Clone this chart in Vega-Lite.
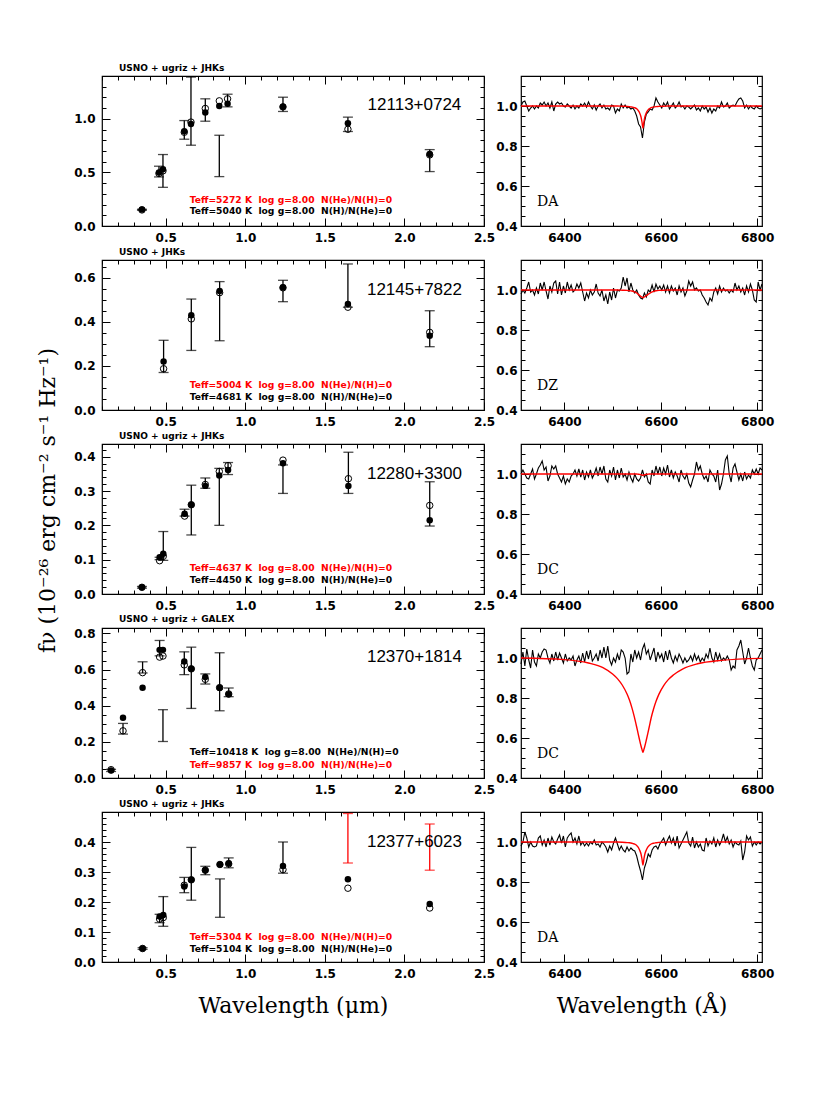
{
"$schema": "https://vega.github.io/schema/vega-lite/v6.json",
"background": "white",
"padding": {"left": 35, "top": 62, "right": 5, "bottom": 5},
"config": {
  "view": {"stroke": "black", "strokeWidth": 1.2},
  "axis": {"domain": false, "grid": false, "ticks": true, "tickColor": "black", "tickWidth": 1, "labelFont": "DejaVu Sans", "labelFontSize": 12, "labelFontWeight": "bold", "labelColor": "black", "labelFlush": false, "labelOverlap": false, "labelBound": false, "titleFont": "DejaVu Serif", "titleFontSize": 22, "titleFontWeight": "normal", "titleColor": "black"},
  "title": {"frame": "group"}
},
"datasets": {
"phot": [
{"p":1,"w":0.351,"lo":0.147,"hi":0.156,"f":0.153,"o":0.150,"hl":"n"},
{"p":1,"w":0.458,"lo":0.458,"hi":0.558,"f":0.500,"o":0.490,"hl":"n"},
{"p":1,"w":0.483,"lo":0.361,"hi":0.667,"f":0.530,"o":0.515,"hl":"n"},
{"p":1,"w":0.617,"lo":0.810,"hi":0.984,"f":0.885,"o":0.875,"hl":"n"},
{"p":1,"w":0.659,"lo":0.754,"hi":1.390,"f":0.953,"o":0.970,"hl":"n"},
{"p":1,"w":0.749,"lo":0.978,"hi":1.187,"f":1.060,"o":1.097,"hl":"n"},
{"p":1,"w":0.837,"lo":0.461,"hi":0.847,"f":1.120,"o":1.168,"hl":"n"},
{"p":1,"w":0.889,"lo":1.112,"hi":1.230,"f":1.140,"o":1.187,"hl":"n"},
{"p":1,"w":1.237,"lo":1.069,"hi":1.202,"f":1.112,"o":1.112,"hl":"n"},
{"p":1,"w":1.645,"lo":0.882,"hi":1.016,"f":0.960,"o":0.903,"hl":"n"},
{"p":1,"w":2.159,"lo":0.508,"hi":0.713,"f":0.673,"o":0.664,"hl":"n"},
{"p":2,"w":0.487,"lo":0.170,"hi":0.316,"f":0.220,"o":0.187,"hl":"n"},
{"p":2,"w":0.661,"lo":0.270,"hi":0.503,"f":0.430,"o":0.413,"hl":"n"},
{"p":2,"w":0.839,"lo":0.314,"hi":0.582,"f":0.539,"o":0.532,"hl":"n"},
{"p":2,"w":1.237,"lo":0.491,"hi":0.588,"f":0.557,"o":0.554,"hl":"n"},
{"p":2,"w":1.645,"lo":0.466,"hi":0.662,"f":0.481,"o":0.466,"hl":"n"},
{"p":2,"w":2.159,"lo":0.287,"hi":0.450,"f":0.337,"o":0.352,"hl":"n"},
{"p":3,"w":0.351,"lo":0.017,"hi":0.022,"f":0.0195,"o":0.0195,"hl":"n"},
{"p":3,"w":0.462,"lo":0.100,"hi":0.107,"f":0.107,"o":0.097,"hl":"n"},
{"p":3,"w":0.485,"lo":0.098,"hi":0.182,"f":0.117,"o":0.110,"hl":"n"},
{"p":3,"w":0.619,"lo":0.227,"hi":0.247,"f":0.234,"o":0.227,"hl":"n"},
{"p":3,"w":0.661,"lo":0.172,"hi":0.317,"f":0.260,"o":0.260,"hl":"n"},
{"p":3,"w":0.749,"lo":0.308,"hi":0.338,"f":0.315,"o":0.319,"hl":"n"},
{"p":3,"w":0.837,"lo":0.200,"hi":0.366,"f":0.345,"o":0.357,"hl":"n"},
{"p":3,"w":0.892,"lo":0.348,"hi":0.383,"f":0.361,"o":0.374,"hl":"n"},
{"p":3,"w":1.237,"lo":0.293,"hi":0.376,"f":0.381,"o":0.390,"hl":"n"},
{"p":3,"w":1.648,"lo":0.293,"hi":0.413,"f":0.315,"o":0.336,"hl":"n"},
{"p":3,"w":2.159,"lo":0.198,"hi":0.327,"f":0.215,"o":0.258,"hl":"n"},
{"p":4,"w":0.157,"lo":0.036,"hi":0.048,"f":0.041,"o":0.046,"hl":"n"},
{"p":4,"w":0.232,"lo":0.243,"hi":0.302,"f":0.333,"o":0.261,"hl":"n"},
{"p":4,"w":0.355,"lo":0.581,"hi":0.643,"f":0.500,"o":0.583,"hl":"n"},
{"p":4,"w":0.462,"lo":0.676,"hi":0.761,"f":0.709,"o":0.669,"hl":"n"},
{"p":4,"w":0.483,"lo":0.202,"hi":0.378,"f":0.709,"o":0.675,"hl":"n"},
{"p":4,"w":0.617,"lo":0.572,"hi":0.698,"f":0.644,"o":0.626,"hl":"n"},
{"p":4,"w":0.661,"lo":0.385,"hi":0.724,"f":0.604,"o":0.604,"hl":"n"},
{"p":4,"w":0.749,"lo":0.520,"hi":0.576,"f":0.559,"o":0.546,"hl":"n"},
{"p":4,"w":0.839,"lo":0.372,"hi":0.693,"f":0.500,"o":0.500,"hl":"n"},
{"p":4,"w":0.896,"lo":0.450,"hi":0.498,"f":0.463,"o":0.465,"hl":"n"},
{"p":5,"w":0.355,"lo":0.042,"hi":0.048,"f":0.045,"o":0.045,"hl":"n"},
{"p":5,"w":0.462,"lo":0.131,"hi":0.159,"f":0.152,"o":0.143,"hl":"n"},
{"p":5,"w":0.485,"lo":0.119,"hi":0.218,"f":0.157,"o":0.148,"hl":"n"},
{"p":5,"w":0.617,"lo":0.231,"hi":0.282,"f":0.252,"o":0.256,"hl":"n"},
{"p":5,"w":0.661,"lo":0.206,"hi":0.382,"f":0.274,"o":0.274,"hl":"n"},
{"p":5,"w":0.749,"lo":0.291,"hi":0.319,"f":0.306,"o":0.306,"hl":"n"},
{"p":5,"w":0.841,"lo":0.149,"hi":0.277,"f":0.325,"o":0.325,"hl":"n"},
{"p":5,"w":0.896,"lo":0.314,"hi":0.347,"f":0.329,"o":0.327,"hl":"n"},
{"p":5,"w":1.237,"lo":0.296,"hi":0.400,"f":0.320,"o":0.308,"hl":"n"},
{"p":5,"w":1.645,"lo":0.330,"hi":0.495,"f":0.276,"o":0.246,"hl":"y"},
{"p":5,"w":2.159,"lo":0.306,"hi":0.460,"f":0.193,"o":0.180,"hl":"y"}
],
"teff": [
{"p":1,"w":0.651,"y":0.247,"t":"Teff=5272 K\u00a0\u00a0log g=8.00\u00a0\u00a0N(He)/N(H)=0","hl":"y"},
{"p":1,"w":0.651,"y":0.137,"t":"Teff=5040 K\u00a0\u00a0log g=8.00\u00a0\u00a0N(H)/N(He)=0","hl":"n"},
{"p":2,"w":0.651,"y":0.114,"t":"Teff=5004 K\u00a0\u00a0log g=8.00\u00a0\u00a0N(He)/N(H)=0","hl":"y"},
{"p":2,"w":0.651,"y":0.059,"t":"Teff=4681 K\u00a0\u00a0log g=8.00\u00a0\u00a0N(H)/N(He)=0","hl":"n"},
{"p":3,"w":0.651,"y":0.076,"t":"Teff=4637 K\u00a0\u00a0log g=8.00\u00a0\u00a0N(He)/N(H)=0","hl":"y"},
{"p":3,"w":0.651,"y":0.040,"t":"Teff=4450 K\u00a0\u00a0log g=8.00\u00a0\u00a0N(H)/N(He)=0","hl":"n"},
{"p":4,"w":0.651,"y":0.144,"t":"Teff=10418 K\u00a0\u00a0log g=8.00\u00a0\u00a0N(He)/N(H)=0","hl":"n"},
{"p":4,"w":0.651,"y":0.074,"t":"Teff=9857 K\u00a0\u00a0log g=8.00\u00a0\u00a0N(H)/N(He)=0","hl":"y"},
{"p":5,"w":0.651,"y":0.085,"t":"Teff=5304 K\u00a0\u00a0log g=8.00\u00a0\u00a0N(He)/N(H)=0","hl":"y"},
{"p":5,"w":0.651,"y":0.044,"t":"Teff=5104 K\u00a0\u00a0log g=8.00\u00a0\u00a0N(H)/N(He)=0","hl":"n"}
],
"names": [
{"p":1,"w":2.063,"y":1.128,"t":"12113+0724"},
{"p":2,"w":2.063,"y":0.543,"t":"12145+7822"},
{"p":3,"w":2.063,"y":0.351,"t":"12280+3300"},
{"p":4,"w":2.063,"y":0.667,"t":"12370+1814"},
{"p":5,"w":2.063,"y":0.400,"t":"12377+6023"}
],
"types": [
{"p":1,"w":6343,"y":0.52,"t":"DA"},
{"p":2,"w":6343,"y":0.52,"t":"DZ"},
{"p":3,"w":6343,"y":0.52,"t":"DC"},
{"p":4,"w":6343,"y":0.52,"t":"DC"},
{"p":5,"w":6343,"y":0.52,"t":"DA"}
],
"model": [
{"w":6310,"m1":1,"m2":1,"m3":1,"m4":1.0,"m5":1},
{"w":6400,"m1":1,"m2":1,"m3":1,"m4":0.992,"m5":1},
{"w":6450,"m1":1,"m2":1,"m3":1,"m4":0.975,"m5":1},
{"w":6480,"m1":1,"m2":1,"m3":1,"m4":0.952,"m5":1},
{"w":6500,"m1":1,"m2":1,"m3":1,"m4":0.92,"m5":1},
{"w":6510,"m1":1,"m2":1,"m3":1,"m4":0.897,"m5":1},
{"w":6520,"m1":0.999,"m2":0.999,"m3":1,"m4":0.865,"m5":0.999},
{"w":6530,"m1":0.998,"m2":0.998,"m3":1,"m4":0.82,"m5":0.997},
{"w":6535,"m1":0.997,"m2":0.997,"m3":1,"m4":0.79,"m5":0.996},
{"w":6540,"m1":0.995,"m2":0.995,"m3":1,"m4":0.752,"m5":0.994},
{"w":6545,"m1":0.992,"m2":0.991,"m3":1,"m4":0.707,"m5":0.99},
{"w":6550,"m1":0.986,"m2":0.985,"m3":1,"m4":0.655,"m5":0.983},
{"w":6553,"m1":0.978,"m2":0.979,"m3":0.999,"m4":0.622,"m5":0.974},
{"w":6556,"m1":0.966,"m2":0.973,"m3":0.998,"m4":0.59,"m5":0.96},
{"w":6559,"m1":0.945,"m2":0.967,"m3":0.997,"m4":0.56,"m5":0.94},
{"w":6561,"m1":0.92,"m2":0.964,"m3":0.995,"m4":0.543,"m5":0.915},
{"w":6563,"m1":0.89,"m2":0.962,"m3":0.994,"m4":0.528,"m5":0.885},
{"w":6565,"m1":0.92,"m2":0.964,"m3":0.995,"m4":0.543,"m5":0.915},
{"w":6567,"m1":0.945,"m2":0.967,"m3":0.997,"m4":0.56,"m5":0.94},
{"w":6570,"m1":0.966,"m2":0.972,"m3":0.998,"m4":0.59,"m5":0.96},
{"w":6573,"m1":0.978,"m2":0.977,"m3":0.999,"m4":0.622,"m5":0.974},
{"w":6576,"m1":0.986,"m2":0.982,"m3":1,"m4":0.655,"m5":0.983},
{"w":6580,"m1":0.992,"m2":0.988,"m3":1,"m4":0.70,"m5":0.99},
{"w":6585,"m1":0.995,"m2":0.993,"m3":1,"m4":0.745,"m5":0.994},
{"w":6590,"m1":0.997,"m2":0.996,"m3":1,"m4":0.782,"m5":0.996},
{"w":6596,"m1":0.998,"m2":0.998,"m3":1,"m4":0.818,"m5":0.998},
{"w":6606,"m1":0.999,"m2":0.999,"m3":1,"m4":0.862,"m5":0.999},
{"w":6616,"m1":1,"m2":1,"m3":1,"m4":0.893,"m5":1},
{"w":6626,"m1":1,"m2":1,"m3":1,"m4":0.915,"m5":1},
{"w":6646,"m1":1,"m2":1,"m3":1,"m4":0.946,"m5":1},
{"w":6676,"m1":1,"m2":1,"m3":1,"m4":0.971,"m5":1},
{"w":6726,"m1":1,"m2":1,"m3":1,"m4":0.988,"m5":1},
{"w":6810,"m1":1,"m2":1,"m3":1,"m4":0.998,"m5":1}
],
"spec": [
{"w":6310,"s1":1.00,"s2":0.98,"s3":1.00,"s4":0.97,"s5":0.98},
{"w":6314,"s1":1.02,"s2":1.00,"s3":1.02,"s4":1.03,"s5":1.00},
{"w":6318,"s1":1.025,"s2":0.985,"s3":1.00,"s4":0.96,"s5":1.05},
{"w":6322,"s1":1.00,"s2":1.01,"s3":0.98,"s4":1.045,"s5":1.02},
{"w":6326,"s1":0.975,"s2":1.04,"s3":0.975,"s4":0.99,"s5":0.975},
{"w":6330,"s1":0.99,"s2":0.99,"s3":1.00,"s4":0.95,"s5":1.00},
{"w":6334,"s1":1.00,"s2":1.00,"s3":1.025,"s4":1.04,"s5":0.98},
{"w":6338,"s1":0.985,"s2":0.975,"s3":0.975,"s4":0.98,"s5":0.975},
{"w":6342,"s1":1.00,"s2":1.01,"s3":1.00,"s4":0.96,"s5":0.98},
{"w":6346,"s1":0.99,"s2":0.98,"s3":1.03,"s4":1.02,"s5":1.02},
{"w":6350,"s1":1.015,"s2":1.035,"s3":1.045,"s4":1.00,"s5":1.03},
{"w":6354,"s1":1.005,"s2":1.00,"s3":1.065,"s4":1.03,"s5":0.985},
{"w":6358,"s1":1.02,"s2":1.04,"s3":1.02,"s4":1.045,"s5":1.01},
{"w":6362,"s1":1.00,"s2":0.995,"s3":1.035,"s4":1.04,"s5":0.975},
{"w":6366,"s1":1.015,"s2":0.955,"s3":0.965,"s4":1.00,"s5":1.02},
{"w":6370,"s1":0.99,"s2":1.02,"s3":0.99,"s4":0.975,"s5":0.985},
{"w":6374,"s1":1.02,"s2":0.99,"s3":1.04,"s4":1.02,"s5":1.025},
{"w":6378,"s1":0.975,"s2":1.035,"s3":1.025,"s4":0.985,"s5":1.00},
{"w":6382,"s1":1.01,"s2":1.045,"s3":1.04,"s4":1.03,"s5":0.99},
{"w":6386,"s1":1.02,"s2":0.98,"s3":1.00,"s4":0.99,"s5":1.015},
{"w":6390,"s1":1.01,"s2":1.04,"s3":0.98,"s4":1.025,"s5":1.035},
{"w":6394,"s1":1.015,"s2":0.975,"s3":0.96,"s4":1.00,"s5":0.995},
{"w":6398,"s1":1.00,"s2":1.02,"s3":0.99,"s4":0.975,"s5":1.03},
{"w":6402,"s1":0.995,"s2":0.985,"s3":0.95,"s4":1.02,"s5":0.975},
{"w":6406,"s1":1.01,"s2":1.04,"s3":0.975,"s4":0.985,"s5":1.02},
{"w":6410,"s1":1.00,"s2":1.00,"s3":0.96,"s4":1.00,"s5":1.035},
{"w":6414,"s1":0.99,"s2":1.025,"s3":0.99,"s4":0.99,"s5":1.045},
{"w":6418,"s1":1.005,"s2":0.99,"s3":1.00,"s4":1.01,"s5":1.00},
{"w":6422,"s1":0.985,"s2":1.00,"s3":1.02,"s4":0.96,"s5":1.02},
{"w":6426,"s1":1.00,"s2":1.03,"s3":0.99,"s4":0.99,"s5":0.99},
{"w":6430,"s1":0.99,"s2":1.01,"s3":1.025,"s4":1.01,"s5":1.03},
{"w":6434,"s1":1.01,"s2":1.035,"s3":0.985,"s4":0.975,"s5":0.985},
{"w":6438,"s1":1.00,"s2":0.99,"s3":1.02,"s4":1.025,"s5":1.00},
{"w":6442,"s1":1.015,"s2":0.945,"s3":0.97,"s4":0.98,"s5":0.98},
{"w":6446,"s1":0.995,"s2":0.985,"s3":1.01,"s4":1.035,"s5":0.995},
{"w":6450,"s1":1.02,"s2":0.96,"s3":0.985,"s4":0.995,"s5":0.98},
{"w":6454,"s1":1.00,"s2":1.00,"s3":1.02,"s4":1.04,"s5":1.00},
{"w":6458,"s1":0.985,"s2":0.975,"s3":0.98,"s4":0.985,"s5":0.99},
{"w":6462,"s1":1.005,"s2":0.99,"s3":1.00,"s4":1.00,"s5":1.01},
{"w":6466,"s1":0.98,"s2":1.03,"s3":1.03,"s4":1.02,"s5":0.985},
{"w":6470,"s1":1.00,"s2":0.985,"s3":0.99,"s4":0.985,"s5":0.99},
{"w":6474,"s1":1.01,"s2":0.97,"s3":1.035,"s4":1.04,"s5":0.975},
{"w":6478,"s1":0.99,"s2":1.00,"s3":1.00,"s4":1.00,"s5":1.00},
{"w":6482,"s1":1.005,"s2":0.945,"s3":1.04,"s4":1.055,"s5":0.99},
{"w":6486,"s1":0.985,"s2":0.975,"s3":0.975,"s4":1.00,"s5":0.975},
{"w":6490,"s1":0.99,"s2":0.93,"s3":0.96,"s4":1.06,"s5":0.95},
{"w":6494,"s1":0.98,"s2":0.99,"s3":1.02,"s4":0.99,"s5":0.98},
{"w":6498,"s1":1.005,"s2":0.95,"s3":0.99,"s4":0.965,"s5":0.96},
{"w":6502,"s1":1.00,"s2":1.01,"s3":1.035,"s4":1.00,"s5":0.995},
{"w":6506,"s1":0.965,"s2":0.96,"s3":0.97,"s4":0.98,"s5":1.02},
{"w":6510,"s1":0.985,"s2":1.00,"s3":1.02,"s4":1.02,"s5":0.99},
{"w":6514,"s1":0.975,"s2":0.995,"s3":0.98,"s4":0.99,"s5":0.96},
{"w":6518,"s1":1.01,"s2":1.01,"s3":1.03,"s4":1.04,"s5":0.98},
{"w":6522,"s1":0.99,"s2":1.065,"s3":0.985,"s4":1.03,"s5":0.96},
{"w":6526,"s1":1.005,"s2":1.02,"s3":1.00,"s4":1.00,"s5":0.95},
{"w":6530,"s1":0.99,"s2":1.06,"s3":0.97,"s4":0.92,"s5":0.975},
{"w":6534,"s1":0.995,"s2":0.99,"s3":1.01,"s4":0.93,"s5":0.955},
{"w":6538,"s1":0.985,"s2":1.035,"s3":0.98,"s4":1.02,"s5":0.97},
{"w":6542,"s1":0.99,"s2":1.00,"s3":0.96,"s4":0.98,"s5":0.96},
{"w":6546,"s1":0.975,"s2":0.985,"s3":1.00,"s4":1.04,"s5":0.955},
{"w":6550,"s1":0.95,"s2":1.00,"s3":0.975,"s4":1.00,"s5":0.93},
{"w":6554,"s1":0.91,"s2":0.975,"s3":0.965,"s4":1.03,"s5":0.89},
{"w":6558,"s1":0.895,"s2":0.96,"s3":0.98,"s4":0.99,"s5":0.855},
{"w":6562,"s1":0.84,"s2":0.955,"s3":1.02,"s4":1.045,"s5":0.81},
{"w":6566,"s1":0.92,"s2":0.985,"s3":0.985,"s4":1.07,"s5":0.87},
{"w":6570,"s1":0.96,"s2":0.965,"s3":1.00,"s4":1.02,"s5":0.90},
{"w":6574,"s1":0.97,"s2":1.00,"s3":0.96,"s4":1.04,"s5":0.94},
{"w":6578,"s1":0.985,"s2":0.99,"s3":0.95,"s4":0.99,"s5":0.925},
{"w":6582,"s1":0.98,"s2":1.025,"s3":1.02,"s4":1.02,"s5":0.96},
{"w":6586,"s1":1.00,"s2":0.99,"s3":0.99,"s4":1.05,"s5":0.975},
{"w":6590,"s1":1.04,"s2":1.03,"s3":1.04,"s4":0.98,"s5":0.98},
{"w":6594,"s1":1.02,"s2":1.005,"s3":1.00,"s4":1.03,"s5":0.965},
{"w":6598,"s1":1.005,"s2":1.02,"s3":1.035,"s4":1.00,"s5":0.99},
{"w":6602,"s1":0.99,"s2":1.00,"s3":0.99,"s4":1.02,"s5":1.005},
{"w":6606,"s1":1.015,"s2":1.025,"s3":1.03,"s4":0.98,"s5":1.02},
{"w":6610,"s1":1.00,"s2":0.99,"s3":1.00,"s4":1.035,"s5":0.985},
{"w":6614,"s1":1.02,"s2":1.02,"s3":1.045,"s4":0.99,"s5":1.01},
{"w":6618,"s1":0.985,"s2":0.985,"s3":0.985,"s4":1.04,"s5":1.03},
{"w":6622,"s1":1.00,"s2":1.02,"s3":1.02,"s4":1.00,"s5":0.995},
{"w":6626,"s1":1.015,"s2":0.995,"s3":0.98,"s4":0.975,"s5":1.02},
{"w":6630,"s1":0.99,"s2":1.01,"s3":1.01,"s4":1.01,"s5":0.98},
{"w":6634,"s1":1.00,"s2":0.975,"s3":0.99,"s4":0.985,"s5":1.03},
{"w":6638,"s1":1.02,"s2":1.02,"s3":0.96,"s4":1.02,"s5":0.97},
{"w":6642,"s1":0.995,"s2":0.99,"s3":1.02,"s4":1.00,"s5":0.99},
{"w":6646,"s1":1.00,"s2":1.01,"s3":0.99,"s4":0.975,"s5":1.01},
{"w":6650,"s1":0.985,"s2":0.97,"s3":0.975,"s4":1.00,"s5":1.03},
{"w":6654,"s1":1.00,"s2":0.995,"s3":1.00,"s4":0.98,"s5":1.05},
{"w":6658,"s1":0.995,"s2":1.045,"s3":0.955,"s4":0.99,"s5":0.995},
{"w":6662,"s1":0.985,"s2":1.02,"s3":0.935,"s4":1.01,"s5":0.98},
{"w":6666,"s1":0.995,"s2":1.04,"s3":0.97,"s4":0.985,"s5":1.025},
{"w":6670,"s1":1.005,"s2":1.00,"s3":1.00,"s4":1.02,"s5":0.97},
{"w":6674,"s1":0.98,"s2":1.01,"s3":1.06,"s4":0.99,"s5":1.00},
{"w":6678,"s1":0.99,"s2":0.995,"s3":1.02,"s4":1.01,"s5":0.975},
{"w":6682,"s1":0.975,"s2":1.00,"s3":1.04,"s4":0.98,"s5":0.99},
{"w":6686,"s1":1.00,"s2":0.975,"s3":1.00,"s4":1.00,"s5":0.96},
{"w":6690,"s1":0.985,"s2":0.96,"s3":0.975,"s4":0.985,"s5":0.955},
{"w":6694,"s1":0.995,"s2":0.94,"s3":0.99,"s4":1.02,"s5":1.02},
{"w":6698,"s1":0.97,"s2":0.925,"s3":0.96,"s4":1.00,"s5":0.98},
{"w":6702,"s1":0.99,"s2":0.96,"s3":1.02,"s4":1.05,"s5":1.005},
{"w":6706,"s1":0.965,"s2":0.945,"s3":1.00,"s4":1.00,"s5":0.99},
{"w":6710,"s1":0.985,"s2":0.99,"s3":0.99,"s4":0.98,"s5":1.02},
{"w":6714,"s1":0.975,"s2":1.01,"s3":0.96,"s4":1.03,"s5":0.975},
{"w":6718,"s1":1.00,"s2":0.98,"s3":1.02,"s4":0.99,"s5":1.01},
{"w":6722,"s1":0.99,"s2":1.02,"s3":0.92,"s4":1.02,"s5":0.985},
{"w":6726,"s1":1.02,"s2":0.99,"s3":0.95,"s4":0.985,"s5":1.005},
{"w":6730,"s1":0.995,"s2":1.01,"s3":1.00,"s4":1.00,"s5":1.04},
{"w":6734,"s1":1.00,"s2":0.995,"s3":1.07,"s4":0.99,"s5":1.00},
{"w":6738,"s1":1.015,"s2":1.00,"s3":1.09,"s4":1.01,"s5":1.025},
{"w":6742,"s1":0.99,"s2":0.985,"s3":1.00,"s4":0.99,"s5":0.99},
{"w":6746,"s1":1.00,"s2":1.00,"s3":0.96,"s4":0.94,"s5":1.01},
{"w":6750,"s1":1.005,"s2":0.99,"s3":1.03,"s4":0.96,"s5":0.975},
{"w":6754,"s1":1.00,"s2":1.035,"s3":1.05,"s4":0.95,"s5":1.00},
{"w":6758,"s1":1.02,"s2":1.00,"s3":1.01,"s4":1.04,"s5":0.99},
{"w":6762,"s1":1.035,"s2":1.02,"s3":0.97,"s4":1.06,"s5":0.985},
{"w":6766,"s1":1.04,"s2":0.99,"s3":1.00,"s4":1.09,"s5":1.005},
{"w":6770,"s1":1.025,"s2":1.01,"s3":0.965,"s4":1.03,"s5":0.91},
{"w":6774,"s1":0.99,"s2":0.975,"s3":1.01,"s4":0.97,"s5":0.95},
{"w":6778,"s1":1.005,"s2":1.02,"s3":0.975,"s4":1.00,"s5":1.03},
{"w":6782,"s1":0.985,"s2":0.99,"s3":0.995,"s4":1.05,"s5":1.01},
{"w":6786,"s1":1.00,"s2":1.03,"s3":0.98,"s4":1.00,"s5":1.025},
{"w":6790,"s1":0.99,"s2":1.00,"s3":1.02,"s4":0.96,"s5":0.98},
{"w":6794,"s1":0.985,"s2":0.95,"s3":1.00,"s4":0.94,"s5":1.00},
{"w":6798,"s1":1.00,"s2":0.94,"s3":1.025,"s4":0.99,"s5":0.985},
{"w":6802,"s1":0.99,"s2":1.04,"s3":1.00,"s4":1.00,"s5":1.00},
{"w":6806,"s1":0.985,"s2":1.00,"s3":1.03,"s4":1.02,"s5":0.99},
{"w":6810,"s1":0.99,"s2":1.03,"s3":1.02,"s4":1.04,"s5":1.00}
]
},
"columns": 2,
"spacing": {"row": 34, "column": 37},
"bounds": "flush",
"concat": [
{
 "width": 382, "height": 150,
 "title": {"text": "USNO + ugriz + JHKs", "anchor": "start", "frame": "group", "dx": 17, "offset": 3, "fontSize": 9, "font": "DejaVu Sans", "fontWeight": "bold", "color": "black"},
 "layer": [
  {"data": {"name": "phot"}, "transform": [{"filter": "datum.p == 1"}], "mark": {"type": "rule", "strokeWidth": 1.3},
   "encoding": {
    "x": {"field": "w", "type": "quantitative", "scale": {"domain": [0.1, 2.5], "nice": false},
          "axis": {"orient": "bottom", "title": null, "values": [0.1,0.2,0.3,0.4,0.5,0.6,0.7,0.8,0.9,1.0,1.1,1.2,1.3,1.4,1.5,1.6,1.7,1.8,1.9,2.0,2.1,2.2,2.3,2.4,2.5], "labelExpr": "abs(datum.value*2-round(datum.value*2))<0.001 ? format(datum.value,'.1f') : ''", "tickSize": {"condition": {"test": "abs(datum.value*2-round(datum.value*2))<0.001", "value": -8}, "value": -4}, "labelPadding": 14}},
    "y": {"field": "lo", "type": "quantitative", "scale": {"domain": [0, 1.4], "nice": false},
          "axis": {"orient": "left", "title": null, "values": [0,0.1,0.2,0.3,0.4,0.5,0.6,0.7,0.8,0.9,1.0,1.1,1.2,1.3], "labelExpr": "abs(datum.value*2-round(datum.value*2))<0.001 ? format(datum.value,'.1f') : ''", "tickSize": {"condition": {"test": "abs(datum.value*2-round(datum.value*2))<0.001", "value": -8}, "value": -4}, "labelPadding": 15}},
    "y2": {"field": "hi"},
    "color": {"field": "hl", "type": "nominal", "scale": {"domain": ["n", "y"], "range": ["black", "red"]}, "legend": null}}},
  {"data": {"name": "phot"}, "transform": [{"filter": "datum.p == 1"}], "mark": {"type": "tick", "orient": "horizontal", "size": 10, "thickness": 1.3},
   "encoding": {
    "x": {"field": "w", "type": "quantitative", "scale": {"domain": [0.1, 2.5], "nice": false},
          "axis": {"orient": "top", "title": null, "labels": false, "values": [0.1,0.2,0.3,0.4,0.5,0.6,0.7,0.8,0.9,1.0,1.1,1.2,1.3,1.4,1.5,1.6,1.7,1.8,1.9,2.0,2.1,2.2,2.3,2.4,2.5], "tickSize": {"condition": {"test": "abs(datum.value*2-round(datum.value*2))<0.001", "value": -8}, "value": -4}}},
    "y": {"field": "lo", "type": "quantitative", "scale": {"domain": [0, 1.4], "nice": false},
          "axis": {"orient": "right", "title": null, "labels": false, "values": [0,0.1,0.2,0.3,0.4,0.5,0.6,0.7,0.8,0.9,1.0,1.1,1.2,1.3], "tickSize": {"condition": {"test": "abs(datum.value*2-round(datum.value*2))<0.001", "value": -8}, "value": -4}}},
    "color": {"field": "hl", "type": "nominal", "scale": {"domain": ["n", "y"], "range": ["black", "red"]}, "legend": null}}},
  {"data": {"name": "phot"}, "transform": [{"filter": "datum.p == 1"}], "mark": {"type": "tick", "orient": "horizontal", "size": 10, "thickness": 1.3},
   "encoding": {
    "x": {"field": "w", "type": "quantitative", "scale": {"domain": [0.1, 2.5], "nice": false}, "axis": null},
    "y": {"field": "hi", "type": "quantitative", "scale": {"domain": [0, 1.4], "nice": false}, "axis": null},
    "color": {"field": "hl", "type": "nominal", "scale": {"domain": ["n", "y"], "range": ["black", "red"]}, "legend": null}}},
  {"data": {"name": "phot"}, "transform": [{"filter": "datum.p == 1"}], "mark": {"type": "point", "shape": "circle", "size": 42, "filled": false, "color": "black", "strokeWidth": 1, "opacity": 1},
   "encoding": {
    "x": {"field": "w", "type": "quantitative", "scale": {"domain": [0.1, 2.5], "nice": false}, "axis": null},
    "y": {"field": "o", "type": "quantitative", "scale": {"domain": [0, 1.4], "nice": false}, "axis": null}}},
  {"data": {"name": "phot"}, "transform": [{"filter": "datum.p == 1"}], "mark": {"type": "point", "shape": "circle", "size": 42, "filled": true, "color": "black", "opacity": 1},
   "encoding": {
    "x": {"field": "w", "type": "quantitative", "scale": {"domain": [0.1, 2.5], "nice": false}, "axis": null},
    "y": {"field": "f", "type": "quantitative", "scale": {"domain": [0, 1.4], "nice": false}, "axis": null}}},
  {"data": {"name": "teff"}, "transform": [{"filter": "datum.p == 1"}], "mark": {"type": "text", "align": "left", "baseline": "middle", "font": "DejaVu Sans", "fontSize": 9.2, "fontWeight": "bold"},
   "encoding": {
    "x": {"field": "w", "type": "quantitative", "scale": {"domain": [0.1, 2.5], "nice": false}, "axis": null},
    "y": {"field": "y", "type": "quantitative", "scale": {"domain": [0, 1.4], "nice": false}, "axis": null},
    "text": {"field": "t"},
    "color": {"field": "hl", "type": "nominal", "scale": {"domain": ["n", "y"], "range": ["black", "red"]}, "legend": null}}},
  {"data": {"name": "names"}, "transform": [{"filter": "datum.p == 1"}], "mark": {"type": "text", "align": "center", "baseline": "middle", "font": "Liberation Sans", "fontSize": 17, "color": "black"},
   "encoding": {
    "x": {"field": "w", "type": "quantitative", "scale": {"domain": [0.1, 2.5], "nice": false}, "axis": null},
    "y": {"field": "y", "type": "quantitative", "scale": {"domain": [0, 1.4], "nice": false}, "axis": null},
    "text": {"field": "t"}}}
 ],
 "resolve": {"axis": {"x": "independent", "y": "independent"}}
},
{
 "width": 241, "height": 150,
 "layer": [
  {"data": {"name": "spec"}, "mark": {"type": "line", "color": "black", "strokeWidth": 1.1},
   "encoding": {
    "x": {"field": "w", "type": "quantitative", "scale": {"domain": [6310, 6810], "nice": false},
          "axis": {"orient": "bottom", "title": null, "values": [6350,6400,6450,6500,6550,6600,6650,6700,6750,6800], "labelExpr": "datum.value % 200 == 0 ? datum.value + '' : ''", "tickSize": {"condition": {"test": "datum.value % 200 == 0", "value": -8}, "value": -4}, "labelPadding": 14}},
    "y": {"field": "s1", "type": "quantitative", "scale": {"domain": [0.4, 1.15], "nice": false, "zero": false},
          "axis": {"orient": "left", "title": null, "values": [0.4,0.45,0.5,0.55,0.6,0.65,0.7,0.75,0.8,0.85,0.9,0.95,1.0,1.05,1.1], "labelExpr": "abs(datum.value*5-round(datum.value*5))<0.001 ? format(datum.value,'.1f') : ''", "tickSize": {"condition": {"test": "abs(datum.value*5-round(datum.value*5))<0.001", "value": -8}, "value": -4}, "labelPadding": 12}}}},
  {"data": {"name": "model"}, "mark": {"type": "line", "color": "red", "strokeWidth": 1.4, "interpolate": "monotone"},
   "encoding": {
    "x": {"field": "w", "type": "quantitative", "scale": {"domain": [6310, 6810], "nice": false},
          "axis": {"orient": "top", "title": null, "labels": false, "values": [6350,6400,6450,6500,6550,6600,6650,6700,6750,6800], "tickSize": {"condition": {"test": "datum.value % 200 == 0", "value": -8}, "value": -4}}},
    "y": {"field": "m1", "type": "quantitative", "scale": {"domain": [0.4, 1.15], "nice": false, "zero": false},
          "axis": {"orient": "right", "title": null, "labels": false, "values": [0.4,0.45,0.5,0.55,0.6,0.65,0.7,0.75,0.8,0.85,0.9,0.95,1.0,1.05,1.1], "tickSize": {"condition": {"test": "abs(datum.value*5-round(datum.value*5))<0.001", "value": -8}, "value": -4}}}}},
  {"data": {"name": "types"}, "transform": [{"filter": "datum.p == 1"}], "mark": {"type": "text", "align": "left", "baseline": "middle", "font": "DejaVu Serif", "fontSize": 14, "color": "black"},
   "encoding": {
    "x": {"field": "w", "type": "quantitative", "scale": {"domain": [6310, 6810], "nice": false}, "axis": null},
    "y": {"field": "y", "type": "quantitative", "scale": {"domain": [0.4, 1.15], "nice": false, "zero": false}, "axis": null},
    "text": {"field": "t"}}}
 ],
 "resolve": {"axis": {"x": "independent", "y": "independent"}}
},
{
 "width": 382, "height": 150,
 "title": {"text": "USNO + JHKs", "anchor": "start", "frame": "group", "dx": 17, "offset": 3, "fontSize": 9, "font": "DejaVu Sans", "fontWeight": "bold", "color": "black"},
 "layer": [
  {"data": {"name": "phot"}, "transform": [{"filter": "datum.p == 2"}], "mark": {"type": "rule", "strokeWidth": 1.3},
   "encoding": {
    "x": {"field": "w", "type": "quantitative", "scale": {"domain": [0.1, 2.5], "nice": false},
          "axis": {"orient": "bottom", "title": null, "values": [0.1,0.2,0.3,0.4,0.5,0.6,0.7,0.8,0.9,1.0,1.1,1.2,1.3,1.4,1.5,1.6,1.7,1.8,1.9,2.0,2.1,2.2,2.3,2.4,2.5], "labelExpr": "abs(datum.value*2-round(datum.value*2))<0.001 ? format(datum.value,'.1f') : ''", "tickSize": {"condition": {"test": "abs(datum.value*2-round(datum.value*2))<0.001", "value": -8}, "value": -4}, "labelPadding": 14}},
    "y": {"field": "lo", "type": "quantitative", "scale": {"domain": [0, 0.68], "nice": false},
          "axis": {"orient": "left", "title": "fν (10⁻²⁶ erg cm⁻² s⁻¹ Hz⁻¹)", "titleAngle": 270, "titleAlign": "center", "titleBaseline": "middle", "titleX": -55, "titleY": 240, "values": [0,0.05,0.1,0.15,0.2,0.25,0.3,0.35,0.4,0.45,0.5,0.55,0.6,0.65], "labelExpr": "abs(datum.value*5-round(datum.value*5))<0.001 ? format(datum.value,'.1f') : ''", "tickSize": {"condition": {"test": "abs(datum.value*5-round(datum.value*5))<0.001", "value": -8}, "value": -4}, "labelPadding": 15}},
    "y2": {"field": "hi"},
    "color": {"field": "hl", "type": "nominal", "scale": {"domain": ["n", "y"], "range": ["black", "red"]}, "legend": null}}},
  {"data": {"name": "phot"}, "transform": [{"filter": "datum.p == 2"}], "mark": {"type": "tick", "orient": "horizontal", "size": 10, "thickness": 1.3},
   "encoding": {
    "x": {"field": "w", "type": "quantitative", "scale": {"domain": [0.1, 2.5], "nice": false},
          "axis": {"orient": "top", "title": null, "labels": false, "values": [0.1,0.2,0.3,0.4,0.5,0.6,0.7,0.8,0.9,1.0,1.1,1.2,1.3,1.4,1.5,1.6,1.7,1.8,1.9,2.0,2.1,2.2,2.3,2.4,2.5], "tickSize": {"condition": {"test": "abs(datum.value*2-round(datum.value*2))<0.001", "value": -8}, "value": -4}}},
    "y": {"field": "lo", "type": "quantitative", "scale": {"domain": [0, 0.68], "nice": false},
          "axis": {"orient": "right", "title": null, "labels": false, "values": [0,0.05,0.1,0.15,0.2,0.25,0.3,0.35,0.4,0.45,0.5,0.55,0.6,0.65], "tickSize": {"condition": {"test": "abs(datum.value*5-round(datum.value*5))<0.001", "value": -8}, "value": -4}}},
    "color": {"field": "hl", "type": "nominal", "scale": {"domain": ["n", "y"], "range": ["black", "red"]}, "legend": null}}},
  {"data": {"name": "phot"}, "transform": [{"filter": "datum.p == 2"}], "mark": {"type": "tick", "orient": "horizontal", "size": 10, "thickness": 1.3},
   "encoding": {
    "x": {"field": "w", "type": "quantitative", "scale": {"domain": [0.1, 2.5], "nice": false}, "axis": null},
    "y": {"field": "hi", "type": "quantitative", "scale": {"domain": [0, 0.68], "nice": false}, "axis": null},
    "color": {"field": "hl", "type": "nominal", "scale": {"domain": ["n", "y"], "range": ["black", "red"]}, "legend": null}}},
  {"data": {"name": "phot"}, "transform": [{"filter": "datum.p == 2"}], "mark": {"type": "point", "shape": "circle", "size": 42, "filled": false, "color": "black", "strokeWidth": 1, "opacity": 1},
   "encoding": {
    "x": {"field": "w", "type": "quantitative", "scale": {"domain": [0.1, 2.5], "nice": false}, "axis": null},
    "y": {"field": "o", "type": "quantitative", "scale": {"domain": [0, 0.68], "nice": false}, "axis": null}}},
  {"data": {"name": "phot"}, "transform": [{"filter": "datum.p == 2"}], "mark": {"type": "point", "shape": "circle", "size": 42, "filled": true, "color": "black", "opacity": 1},
   "encoding": {
    "x": {"field": "w", "type": "quantitative", "scale": {"domain": [0.1, 2.5], "nice": false}, "axis": null},
    "y": {"field": "f", "type": "quantitative", "scale": {"domain": [0, 0.68], "nice": false}, "axis": null}}},
  {"data": {"name": "teff"}, "transform": [{"filter": "datum.p == 2"}], "mark": {"type": "text", "align": "left", "baseline": "middle", "font": "DejaVu Sans", "fontSize": 9.2, "fontWeight": "bold"},
   "encoding": {
    "x": {"field": "w", "type": "quantitative", "scale": {"domain": [0.1, 2.5], "nice": false}, "axis": null},
    "y": {"field": "y", "type": "quantitative", "scale": {"domain": [0, 0.68], "nice": false}, "axis": null},
    "text": {"field": "t"},
    "color": {"field": "hl", "type": "nominal", "scale": {"domain": ["n", "y"], "range": ["black", "red"]}, "legend": null}}},
  {"data": {"name": "names"}, "transform": [{"filter": "datum.p == 2"}], "mark": {"type": "text", "align": "center", "baseline": "middle", "font": "Liberation Sans", "fontSize": 17, "color": "black"},
   "encoding": {
    "x": {"field": "w", "type": "quantitative", "scale": {"domain": [0.1, 2.5], "nice": false}, "axis": null},
    "y": {"field": "y", "type": "quantitative", "scale": {"domain": [0, 0.68], "nice": false}, "axis": null},
    "text": {"field": "t"}}}
 ],
 "resolve": {"axis": {"x": "independent", "y": "independent"}}
},
{
 "width": 241, "height": 150,
 "layer": [
  {"data": {"name": "spec"}, "mark": {"type": "line", "color": "black", "strokeWidth": 1.1},
   "encoding": {
    "x": {"field": "w", "type": "quantitative", "scale": {"domain": [6310, 6810], "nice": false},
          "axis": {"orient": "bottom", "title": null, "values": [6350,6400,6450,6500,6550,6600,6650,6700,6750,6800], "labelExpr": "datum.value % 200 == 0 ? datum.value + '' : ''", "tickSize": {"condition": {"test": "datum.value % 200 == 0", "value": -8}, "value": -4}, "labelPadding": 14}},
    "y": {"field": "s2", "type": "quantitative", "scale": {"domain": [0.4, 1.15], "nice": false, "zero": false},
          "axis": {"orient": "left", "title": null, "values": [0.4,0.45,0.5,0.55,0.6,0.65,0.7,0.75,0.8,0.85,0.9,0.95,1.0,1.05,1.1], "labelExpr": "abs(datum.value*5-round(datum.value*5))<0.001 ? format(datum.value,'.1f') : ''", "tickSize": {"condition": {"test": "abs(datum.value*5-round(datum.value*5))<0.001", "value": -8}, "value": -4}, "labelPadding": 12}}}},
  {"data": {"name": "model"}, "mark": {"type": "line", "color": "red", "strokeWidth": 1.4, "interpolate": "monotone"},
   "encoding": {
    "x": {"field": "w", "type": "quantitative", "scale": {"domain": [6310, 6810], "nice": false},
          "axis": {"orient": "top", "title": null, "labels": false, "values": [6350,6400,6450,6500,6550,6600,6650,6700,6750,6800], "tickSize": {"condition": {"test": "datum.value % 200 == 0", "value": -8}, "value": -4}}},
    "y": {"field": "m2", "type": "quantitative", "scale": {"domain": [0.4, 1.15], "nice": false, "zero": false},
          "axis": {"orient": "right", "title": null, "labels": false, "values": [0.4,0.45,0.5,0.55,0.6,0.65,0.7,0.75,0.8,0.85,0.9,0.95,1.0,1.05,1.1], "tickSize": {"condition": {"test": "abs(datum.value*5-round(datum.value*5))<0.001", "value": -8}, "value": -4}}}}},
  {"data": {"name": "types"}, "transform": [{"filter": "datum.p == 2"}], "mark": {"type": "text", "align": "left", "baseline": "middle", "font": "DejaVu Serif", "fontSize": 14, "color": "black"},
   "encoding": {
    "x": {"field": "w", "type": "quantitative", "scale": {"domain": [6310, 6810], "nice": false}, "axis": null},
    "y": {"field": "y", "type": "quantitative", "scale": {"domain": [0.4, 1.15], "nice": false, "zero": false}, "axis": null},
    "text": {"field": "t"}}}
 ],
 "resolve": {"axis": {"x": "independent", "y": "independent"}}
},
{
 "width": 382, "height": 150,
 "title": {"text": "USNO + ugriz + JHKs", "anchor": "start", "frame": "group", "dx": 17, "offset": 3, "fontSize": 9, "font": "DejaVu Sans", "fontWeight": "bold", "color": "black"},
 "layer": [
  {"data": {"name": "phot"}, "transform": [{"filter": "datum.p == 3"}], "mark": {"type": "rule", "strokeWidth": 1.3},
   "encoding": {
    "x": {"field": "w", "type": "quantitative", "scale": {"domain": [0.1, 2.5], "nice": false},
          "axis": {"orient": "bottom", "title": null, "values": [0.1,0.2,0.3,0.4,0.5,0.6,0.7,0.8,0.9,1.0,1.1,1.2,1.3,1.4,1.5,1.6,1.7,1.8,1.9,2.0,2.1,2.2,2.3,2.4,2.5], "labelExpr": "abs(datum.value*2-round(datum.value*2))<0.001 ? format(datum.value,'.1f') : ''", "tickSize": {"condition": {"test": "abs(datum.value*2-round(datum.value*2))<0.001", "value": -8}, "value": -4}, "labelPadding": 14}},
    "y": {"field": "lo", "type": "quantitative", "scale": {"domain": [0, 0.437], "nice": false},
          "axis": {"orient": "left", "title": null, "values": [0,0.02,0.04,0.06,0.08,0.1,0.12,0.14,0.16,0.18,0.2,0.22,0.24,0.26,0.28,0.3,0.32,0.34,0.36,0.38,0.4,0.42], "labelExpr": "abs(datum.value*10-round(datum.value*10))<0.001 ? format(datum.value,'.1f') : ''", "tickSize": {"condition": {"test": "abs(datum.value*10-round(datum.value*10))<0.001", "value": -8}, "value": -4}, "labelPadding": 15}},
    "y2": {"field": "hi"},
    "color": {"field": "hl", "type": "nominal", "scale": {"domain": ["n", "y"], "range": ["black", "red"]}, "legend": null}}},
  {"data": {"name": "phot"}, "transform": [{"filter": "datum.p == 3"}], "mark": {"type": "tick", "orient": "horizontal", "size": 10, "thickness": 1.3},
   "encoding": {
    "x": {"field": "w", "type": "quantitative", "scale": {"domain": [0.1, 2.5], "nice": false},
          "axis": {"orient": "top", "title": null, "labels": false, "values": [0.1,0.2,0.3,0.4,0.5,0.6,0.7,0.8,0.9,1.0,1.1,1.2,1.3,1.4,1.5,1.6,1.7,1.8,1.9,2.0,2.1,2.2,2.3,2.4,2.5], "tickSize": {"condition": {"test": "abs(datum.value*2-round(datum.value*2))<0.001", "value": -8}, "value": -4}}},
    "y": {"field": "lo", "type": "quantitative", "scale": {"domain": [0, 0.437], "nice": false},
          "axis": {"orient": "right", "title": null, "labels": false, "values": [0,0.02,0.04,0.06,0.08,0.1,0.12,0.14,0.16,0.18,0.2,0.22,0.24,0.26,0.28,0.3,0.32,0.34,0.36,0.38,0.4,0.42], "tickSize": {"condition": {"test": "abs(datum.value*10-round(datum.value*10))<0.001", "value": -8}, "value": -4}}},
    "color": {"field": "hl", "type": "nominal", "scale": {"domain": ["n", "y"], "range": ["black", "red"]}, "legend": null}}},
  {"data": {"name": "phot"}, "transform": [{"filter": "datum.p == 3"}], "mark": {"type": "tick", "orient": "horizontal", "size": 10, "thickness": 1.3},
   "encoding": {
    "x": {"field": "w", "type": "quantitative", "scale": {"domain": [0.1, 2.5], "nice": false}, "axis": null},
    "y": {"field": "hi", "type": "quantitative", "scale": {"domain": [0, 0.437], "nice": false}, "axis": null},
    "color": {"field": "hl", "type": "nominal", "scale": {"domain": ["n", "y"], "range": ["black", "red"]}, "legend": null}}},
  {"data": {"name": "phot"}, "transform": [{"filter": "datum.p == 3"}], "mark": {"type": "point", "shape": "circle", "size": 42, "filled": false, "color": "black", "strokeWidth": 1, "opacity": 1},
   "encoding": {
    "x": {"field": "w", "type": "quantitative", "scale": {"domain": [0.1, 2.5], "nice": false}, "axis": null},
    "y": {"field": "o", "type": "quantitative", "scale": {"domain": [0, 0.437], "nice": false}, "axis": null}}},
  {"data": {"name": "phot"}, "transform": [{"filter": "datum.p == 3"}], "mark": {"type": "point", "shape": "circle", "size": 42, "filled": true, "color": "black", "opacity": 1},
   "encoding": {
    "x": {"field": "w", "type": "quantitative", "scale": {"domain": [0.1, 2.5], "nice": false}, "axis": null},
    "y": {"field": "f", "type": "quantitative", "scale": {"domain": [0, 0.437], "nice": false}, "axis": null}}},
  {"data": {"name": "teff"}, "transform": [{"filter": "datum.p == 3"}], "mark": {"type": "text", "align": "left", "baseline": "middle", "font": "DejaVu Sans", "fontSize": 9.2, "fontWeight": "bold"},
   "encoding": {
    "x": {"field": "w", "type": "quantitative", "scale": {"domain": [0.1, 2.5], "nice": false}, "axis": null},
    "y": {"field": "y", "type": "quantitative", "scale": {"domain": [0, 0.437], "nice": false}, "axis": null},
    "text": {"field": "t"},
    "color": {"field": "hl", "type": "nominal", "scale": {"domain": ["n", "y"], "range": ["black", "red"]}, "legend": null}}},
  {"data": {"name": "names"}, "transform": [{"filter": "datum.p == 3"}], "mark": {"type": "text", "align": "center", "baseline": "middle", "font": "Liberation Sans", "fontSize": 17, "color": "black"},
   "encoding": {
    "x": {"field": "w", "type": "quantitative", "scale": {"domain": [0.1, 2.5], "nice": false}, "axis": null},
    "y": {"field": "y", "type": "quantitative", "scale": {"domain": [0, 0.437], "nice": false}, "axis": null},
    "text": {"field": "t"}}}
 ],
 "resolve": {"axis": {"x": "independent", "y": "independent"}}
},
{
 "width": 241, "height": 150,
 "layer": [
  {"data": {"name": "spec"}, "mark": {"type": "line", "color": "black", "strokeWidth": 1.1},
   "encoding": {
    "x": {"field": "w", "type": "quantitative", "scale": {"domain": [6310, 6810], "nice": false},
          "axis": {"orient": "bottom", "title": null, "values": [6350,6400,6450,6500,6550,6600,6650,6700,6750,6800], "labelExpr": "datum.value % 200 == 0 ? datum.value + '' : ''", "tickSize": {"condition": {"test": "datum.value % 200 == 0", "value": -8}, "value": -4}, "labelPadding": 14}},
    "y": {"field": "s3", "type": "quantitative", "scale": {"domain": [0.4, 1.15], "nice": false, "zero": false},
          "axis": {"orient": "left", "title": null, "values": [0.4,0.45,0.5,0.55,0.6,0.65,0.7,0.75,0.8,0.85,0.9,0.95,1.0,1.05,1.1], "labelExpr": "abs(datum.value*5-round(datum.value*5))<0.001 ? format(datum.value,'.1f') : ''", "tickSize": {"condition": {"test": "abs(datum.value*5-round(datum.value*5))<0.001", "value": -8}, "value": -4}, "labelPadding": 12}}}},
  {"data": {"name": "model"}, "mark": {"type": "line", "color": "red", "strokeWidth": 1.4, "interpolate": "monotone"},
   "encoding": {
    "x": {"field": "w", "type": "quantitative", "scale": {"domain": [6310, 6810], "nice": false},
          "axis": {"orient": "top", "title": null, "labels": false, "values": [6350,6400,6450,6500,6550,6600,6650,6700,6750,6800], "tickSize": {"condition": {"test": "datum.value % 200 == 0", "value": -8}, "value": -4}}},
    "y": {"field": "m3", "type": "quantitative", "scale": {"domain": [0.4, 1.15], "nice": false, "zero": false},
          "axis": {"orient": "right", "title": null, "labels": false, "values": [0.4,0.45,0.5,0.55,0.6,0.65,0.7,0.75,0.8,0.85,0.9,0.95,1.0,1.05,1.1], "tickSize": {"condition": {"test": "abs(datum.value*5-round(datum.value*5))<0.001", "value": -8}, "value": -4}}}}},
  {"data": {"name": "types"}, "transform": [{"filter": "datum.p == 3"}], "mark": {"type": "text", "align": "left", "baseline": "middle", "font": "DejaVu Serif", "fontSize": 14, "color": "black"},
   "encoding": {
    "x": {"field": "w", "type": "quantitative", "scale": {"domain": [6310, 6810], "nice": false}, "axis": null},
    "y": {"field": "y", "type": "quantitative", "scale": {"domain": [0.4, 1.15], "nice": false, "zero": false}, "axis": null},
    "text": {"field": "t"}}}
 ],
 "resolve": {"axis": {"x": "independent", "y": "independent"}}
},
{
 "width": 382, "height": 150,
 "title": {"text": "USNO + ugriz + GALEX", "anchor": "start", "frame": "group", "dx": 17, "offset": 3, "fontSize": 9, "font": "DejaVu Sans", "fontWeight": "bold", "color": "black"},
 "layer": [
  {"data": {"name": "phot"}, "transform": [{"filter": "datum.p == 4"}], "mark": {"type": "rule", "strokeWidth": 1.3},
   "encoding": {
    "x": {"field": "w", "type": "quantitative", "scale": {"domain": [0.1, 2.5], "nice": false},
          "axis": {"orient": "bottom", "title": null, "values": [0.1,0.2,0.3,0.4,0.5,0.6,0.7,0.8,0.9,1.0,1.1,1.2,1.3,1.4,1.5,1.6,1.7,1.8,1.9,2.0,2.1,2.2,2.3,2.4,2.5], "labelExpr": "abs(datum.value*2-round(datum.value*2))<0.001 ? format(datum.value,'.1f') : ''", "tickSize": {"condition": {"test": "abs(datum.value*2-round(datum.value*2))<0.001", "value": -8}, "value": -4}, "labelPadding": 14}},
    "y": {"field": "lo", "type": "quantitative", "scale": {"domain": [0, 0.83], "nice": false},
          "axis": {"orient": "left", "title": null, "values": [0,0.05,0.1,0.15,0.2,0.25,0.3,0.35,0.4,0.45,0.5,0.55,0.6,0.65,0.7,0.75,0.8], "labelExpr": "abs(datum.value*5-round(datum.value*5))<0.001 ? format(datum.value,'.1f') : ''", "tickSize": {"condition": {"test": "abs(datum.value*5-round(datum.value*5))<0.001", "value": -8}, "value": -4}, "labelPadding": 15}},
    "y2": {"field": "hi"},
    "color": {"field": "hl", "type": "nominal", "scale": {"domain": ["n", "y"], "range": ["black", "red"]}, "legend": null}}},
  {"data": {"name": "phot"}, "transform": [{"filter": "datum.p == 4"}], "mark": {"type": "tick", "orient": "horizontal", "size": 10, "thickness": 1.3},
   "encoding": {
    "x": {"field": "w", "type": "quantitative", "scale": {"domain": [0.1, 2.5], "nice": false},
          "axis": {"orient": "top", "title": null, "labels": false, "values": [0.1,0.2,0.3,0.4,0.5,0.6,0.7,0.8,0.9,1.0,1.1,1.2,1.3,1.4,1.5,1.6,1.7,1.8,1.9,2.0,2.1,2.2,2.3,2.4,2.5], "tickSize": {"condition": {"test": "abs(datum.value*2-round(datum.value*2))<0.001", "value": -8}, "value": -4}}},
    "y": {"field": "lo", "type": "quantitative", "scale": {"domain": [0, 0.83], "nice": false},
          "axis": {"orient": "right", "title": null, "labels": false, "values": [0,0.05,0.1,0.15,0.2,0.25,0.3,0.35,0.4,0.45,0.5,0.55,0.6,0.65,0.7,0.75,0.8], "tickSize": {"condition": {"test": "abs(datum.value*5-round(datum.value*5))<0.001", "value": -8}, "value": -4}}},
    "color": {"field": "hl", "type": "nominal", "scale": {"domain": ["n", "y"], "range": ["black", "red"]}, "legend": null}}},
  {"data": {"name": "phot"}, "transform": [{"filter": "datum.p == 4"}], "mark": {"type": "tick", "orient": "horizontal", "size": 10, "thickness": 1.3},
   "encoding": {
    "x": {"field": "w", "type": "quantitative", "scale": {"domain": [0.1, 2.5], "nice": false}, "axis": null},
    "y": {"field": "hi", "type": "quantitative", "scale": {"domain": [0, 0.83], "nice": false}, "axis": null},
    "color": {"field": "hl", "type": "nominal", "scale": {"domain": ["n", "y"], "range": ["black", "red"]}, "legend": null}}},
  {"data": {"name": "phot"}, "transform": [{"filter": "datum.p == 4"}], "mark": {"type": "point", "shape": "circle", "size": 42, "filled": false, "color": "black", "strokeWidth": 1, "opacity": 1},
   "encoding": {
    "x": {"field": "w", "type": "quantitative", "scale": {"domain": [0.1, 2.5], "nice": false}, "axis": null},
    "y": {"field": "o", "type": "quantitative", "scale": {"domain": [0, 0.83], "nice": false}, "axis": null}}},
  {"data": {"name": "phot"}, "transform": [{"filter": "datum.p == 4"}], "mark": {"type": "point", "shape": "circle", "size": 42, "filled": true, "color": "black", "opacity": 1},
   "encoding": {
    "x": {"field": "w", "type": "quantitative", "scale": {"domain": [0.1, 2.5], "nice": false}, "axis": null},
    "y": {"field": "f", "type": "quantitative", "scale": {"domain": [0, 0.83], "nice": false}, "axis": null}}},
  {"data": {"name": "teff"}, "transform": [{"filter": "datum.p == 4"}], "mark": {"type": "text", "align": "left", "baseline": "middle", "font": "DejaVu Sans", "fontSize": 9.2, "fontWeight": "bold"},
   "encoding": {
    "x": {"field": "w", "type": "quantitative", "scale": {"domain": [0.1, 2.5], "nice": false}, "axis": null},
    "y": {"field": "y", "type": "quantitative", "scale": {"domain": [0, 0.83], "nice": false}, "axis": null},
    "text": {"field": "t"},
    "color": {"field": "hl", "type": "nominal", "scale": {"domain": ["n", "y"], "range": ["black", "red"]}, "legend": null}}},
  {"data": {"name": "names"}, "transform": [{"filter": "datum.p == 4"}], "mark": {"type": "text", "align": "center", "baseline": "middle", "font": "Liberation Sans", "fontSize": 17, "color": "black"},
   "encoding": {
    "x": {"field": "w", "type": "quantitative", "scale": {"domain": [0.1, 2.5], "nice": false}, "axis": null},
    "y": {"field": "y", "type": "quantitative", "scale": {"domain": [0, 0.83], "nice": false}, "axis": null},
    "text": {"field": "t"}}}
 ],
 "resolve": {"axis": {"x": "independent", "y": "independent"}}
},
{
 "width": 241, "height": 150,
 "layer": [
  {"data": {"name": "spec"}, "mark": {"type": "line", "color": "black", "strokeWidth": 1.1},
   "encoding": {
    "x": {"field": "w", "type": "quantitative", "scale": {"domain": [6310, 6810], "nice": false},
          "axis": {"orient": "bottom", "title": null, "values": [6350,6400,6450,6500,6550,6600,6650,6700,6750,6800], "labelExpr": "datum.value % 200 == 0 ? datum.value + '' : ''", "tickSize": {"condition": {"test": "datum.value % 200 == 0", "value": -8}, "value": -4}, "labelPadding": 14}},
    "y": {"field": "s4", "type": "quantitative", "scale": {"domain": [0.4, 1.15], "nice": false, "zero": false},
          "axis": {"orient": "left", "title": null, "values": [0.4,0.45,0.5,0.55,0.6,0.65,0.7,0.75,0.8,0.85,0.9,0.95,1.0,1.05,1.1], "labelExpr": "abs(datum.value*5-round(datum.value*5))<0.001 ? format(datum.value,'.1f') : ''", "tickSize": {"condition": {"test": "abs(datum.value*5-round(datum.value*5))<0.001", "value": -8}, "value": -4}, "labelPadding": 12}}}},
  {"data": {"name": "model"}, "mark": {"type": "line", "color": "red", "strokeWidth": 1.4, "interpolate": "monotone"},
   "encoding": {
    "x": {"field": "w", "type": "quantitative", "scale": {"domain": [6310, 6810], "nice": false},
          "axis": {"orient": "top", "title": null, "labels": false, "values": [6350,6400,6450,6500,6550,6600,6650,6700,6750,6800], "tickSize": {"condition": {"test": "datum.value % 200 == 0", "value": -8}, "value": -4}}},
    "y": {"field": "m4", "type": "quantitative", "scale": {"domain": [0.4, 1.15], "nice": false, "zero": false},
          "axis": {"orient": "right", "title": null, "labels": false, "values": [0.4,0.45,0.5,0.55,0.6,0.65,0.7,0.75,0.8,0.85,0.9,0.95,1.0,1.05,1.1], "tickSize": {"condition": {"test": "abs(datum.value*5-round(datum.value*5))<0.001", "value": -8}, "value": -4}}}}},
  {"data": {"name": "types"}, "transform": [{"filter": "datum.p == 4"}], "mark": {"type": "text", "align": "left", "baseline": "middle", "font": "DejaVu Serif", "fontSize": 14, "color": "black"},
   "encoding": {
    "x": {"field": "w", "type": "quantitative", "scale": {"domain": [6310, 6810], "nice": false}, "axis": null},
    "y": {"field": "y", "type": "quantitative", "scale": {"domain": [0.4, 1.15], "nice": false, "zero": false}, "axis": null},
    "text": {"field": "t"}}}
 ],
 "resolve": {"axis": {"x": "independent", "y": "independent"}}
},
{
 "width": 382, "height": 150,
 "title": {"text": "USNO + ugriz + JHKs", "anchor": "start", "frame": "group", "dx": 17, "offset": 3, "fontSize": 9, "font": "DejaVu Sans", "fontWeight": "bold", "color": "black"},
 "layer": [
  {"data": {"name": "phot"}, "transform": [{"filter": "datum.p == 5"}], "mark": {"type": "rule", "strokeWidth": 1.3},
   "encoding": {
    "x": {"field": "w", "type": "quantitative", "scale": {"domain": [0.1, 2.5], "nice": false},
          "axis": {"orient": "bottom", "title": "Wavelength (μm)", "titlePadding": 12, "values": [0.1,0.2,0.3,0.4,0.5,0.6,0.7,0.8,0.9,1.0,1.1,1.2,1.3,1.4,1.5,1.6,1.7,1.8,1.9,2.0,2.1,2.2,2.3,2.4,2.5], "labelExpr": "abs(datum.value*2-round(datum.value*2))<0.001 ? format(datum.value,'.1f') : ''", "tickSize": {"condition": {"test": "abs(datum.value*2-round(datum.value*2))<0.001", "value": -8}, "value": -4}, "labelPadding": 14}},
    "y": {"field": "lo", "type": "quantitative", "scale": {"domain": [0, 0.5], "nice": false},
          "axis": {"orient": "left", "title": null, "values": [0,0.02,0.04,0.06,0.08,0.1,0.12,0.14,0.16,0.18,0.2,0.22,0.24,0.26,0.28,0.3,0.32,0.34,0.36,0.38,0.4,0.42,0.44,0.46,0.48], "labelExpr": "abs(datum.value*10-round(datum.value*10))<0.001 ? format(datum.value,'.1f') : ''", "tickSize": {"condition": {"test": "abs(datum.value*10-round(datum.value*10))<0.001", "value": -8}, "value": -4}, "labelPadding": 15}},
    "y2": {"field": "hi"},
    "color": {"field": "hl", "type": "nominal", "scale": {"domain": ["n", "y"], "range": ["black", "red"]}, "legend": null}}},
  {"data": {"name": "phot"}, "transform": [{"filter": "datum.p == 5"}], "mark": {"type": "tick", "orient": "horizontal", "size": 10, "thickness": 1.3},
   "encoding": {
    "x": {"field": "w", "type": "quantitative", "scale": {"domain": [0.1, 2.5], "nice": false},
          "axis": {"orient": "top", "title": null, "labels": false, "values": [0.1,0.2,0.3,0.4,0.5,0.6,0.7,0.8,0.9,1.0,1.1,1.2,1.3,1.4,1.5,1.6,1.7,1.8,1.9,2.0,2.1,2.2,2.3,2.4,2.5], "tickSize": {"condition": {"test": "abs(datum.value*2-round(datum.value*2))<0.001", "value": -8}, "value": -4}}},
    "y": {"field": "lo", "type": "quantitative", "scale": {"domain": [0, 0.5], "nice": false},
          "axis": {"orient": "right", "title": null, "labels": false, "values": [0,0.02,0.04,0.06,0.08,0.1,0.12,0.14,0.16,0.18,0.2,0.22,0.24,0.26,0.28,0.3,0.32,0.34,0.36,0.38,0.4,0.42,0.44,0.46,0.48], "tickSize": {"condition": {"test": "abs(datum.value*10-round(datum.value*10))<0.001", "value": -8}, "value": -4}}},
    "color": {"field": "hl", "type": "nominal", "scale": {"domain": ["n", "y"], "range": ["black", "red"]}, "legend": null}}},
  {"data": {"name": "phot"}, "transform": [{"filter": "datum.p == 5"}], "mark": {"type": "tick", "orient": "horizontal", "size": 10, "thickness": 1.3},
   "encoding": {
    "x": {"field": "w", "type": "quantitative", "scale": {"domain": [0.1, 2.5], "nice": false}, "axis": null},
    "y": {"field": "hi", "type": "quantitative", "scale": {"domain": [0, 0.5], "nice": false}, "axis": null},
    "color": {"field": "hl", "type": "nominal", "scale": {"domain": ["n", "y"], "range": ["black", "red"]}, "legend": null}}},
  {"data": {"name": "phot"}, "transform": [{"filter": "datum.p == 5"}], "mark": {"type": "point", "shape": "circle", "size": 42, "filled": false, "color": "black", "strokeWidth": 1, "opacity": 1},
   "encoding": {
    "x": {"field": "w", "type": "quantitative", "scale": {"domain": [0.1, 2.5], "nice": false}, "axis": null},
    "y": {"field": "o", "type": "quantitative", "scale": {"domain": [0, 0.5], "nice": false}, "axis": null}}},
  {"data": {"name": "phot"}, "transform": [{"filter": "datum.p == 5"}], "mark": {"type": "point", "shape": "circle", "size": 42, "filled": true, "color": "black", "opacity": 1},
   "encoding": {
    "x": {"field": "w", "type": "quantitative", "scale": {"domain": [0.1, 2.5], "nice": false}, "axis": null},
    "y": {"field": "f", "type": "quantitative", "scale": {"domain": [0, 0.5], "nice": false}, "axis": null}}},
  {"data": {"name": "teff"}, "transform": [{"filter": "datum.p == 5"}], "mark": {"type": "text", "align": "left", "baseline": "middle", "font": "DejaVu Sans", "fontSize": 9.2, "fontWeight": "bold"},
   "encoding": {
    "x": {"field": "w", "type": "quantitative", "scale": {"domain": [0.1, 2.5], "nice": false}, "axis": null},
    "y": {"field": "y", "type": "quantitative", "scale": {"domain": [0, 0.5], "nice": false}, "axis": null},
    "text": {"field": "t"},
    "color": {"field": "hl", "type": "nominal", "scale": {"domain": ["n", "y"], "range": ["black", "red"]}, "legend": null}}},
  {"data": {"name": "names"}, "transform": [{"filter": "datum.p == 5"}], "mark": {"type": "text", "align": "center", "baseline": "middle", "font": "Liberation Sans", "fontSize": 17, "color": "black"},
   "encoding": {
    "x": {"field": "w", "type": "quantitative", "scale": {"domain": [0.1, 2.5], "nice": false}, "axis": null},
    "y": {"field": "y", "type": "quantitative", "scale": {"domain": [0, 0.5], "nice": false}, "axis": null},
    "text": {"field": "t"}}}
 ],
 "resolve": {"axis": {"x": "independent", "y": "independent"}}
},
{
 "width": 241, "height": 150,
 "layer": [
  {"data": {"name": "spec"}, "mark": {"type": "line", "color": "black", "strokeWidth": 1.1},
   "encoding": {
    "x": {"field": "w", "type": "quantitative", "scale": {"domain": [6310, 6810], "nice": false},
          "axis": {"orient": "bottom", "title": "Wavelength (Å)", "titlePadding": 12, "values": [6350,6400,6450,6500,6550,6600,6650,6700,6750,6800], "labelExpr": "datum.value % 200 == 0 ? datum.value + '' : ''", "tickSize": {"condition": {"test": "datum.value % 200 == 0", "value": -8}, "value": -4}, "labelPadding": 14}},
    "y": {"field": "s5", "type": "quantitative", "scale": {"domain": [0.4, 1.15], "nice": false, "zero": false},
          "axis": {"orient": "left", "title": null, "values": [0.4,0.45,0.5,0.55,0.6,0.65,0.7,0.75,0.8,0.85,0.9,0.95,1.0,1.05,1.1], "labelExpr": "abs(datum.value*5-round(datum.value*5))<0.001 ? format(datum.value,'.1f') : ''", "tickSize": {"condition": {"test": "abs(datum.value*5-round(datum.value*5))<0.001", "value": -8}, "value": -4}, "labelPadding": 12}}}},
  {"data": {"name": "model"}, "mark": {"type": "line", "color": "red", "strokeWidth": 1.4, "interpolate": "monotone"},
   "encoding": {
    "x": {"field": "w", "type": "quantitative", "scale": {"domain": [6310, 6810], "nice": false},
          "axis": {"orient": "top", "title": null, "labels": false, "values": [6350,6400,6450,6500,6550,6600,6650,6700,6750,6800], "tickSize": {"condition": {"test": "datum.value % 200 == 0", "value": -8}, "value": -4}}},
    "y": {"field": "m5", "type": "quantitative", "scale": {"domain": [0.4, 1.15], "nice": false, "zero": false},
          "axis": {"orient": "right", "title": null, "labels": false, "values": [0.4,0.45,0.5,0.55,0.6,0.65,0.7,0.75,0.8,0.85,0.9,0.95,1.0,1.05,1.1], "tickSize": {"condition": {"test": "abs(datum.value*5-round(datum.value*5))<0.001", "value": -8}, "value": -4}}}}},
  {"data": {"name": "types"}, "transform": [{"filter": "datum.p == 5"}], "mark": {"type": "text", "align": "left", "baseline": "middle", "font": "DejaVu Serif", "fontSize": 14, "color": "black"},
   "encoding": {
    "x": {"field": "w", "type": "quantitative", "scale": {"domain": [6310, 6810], "nice": false}, "axis": null},
    "y": {"field": "y", "type": "quantitative", "scale": {"domain": [0.4, 1.15], "nice": false, "zero": false}, "axis": null},
    "text": {"field": "t"}}}
 ],
 "resolve": {"axis": {"x": "independent", "y": "independent"}}
}
]
}
